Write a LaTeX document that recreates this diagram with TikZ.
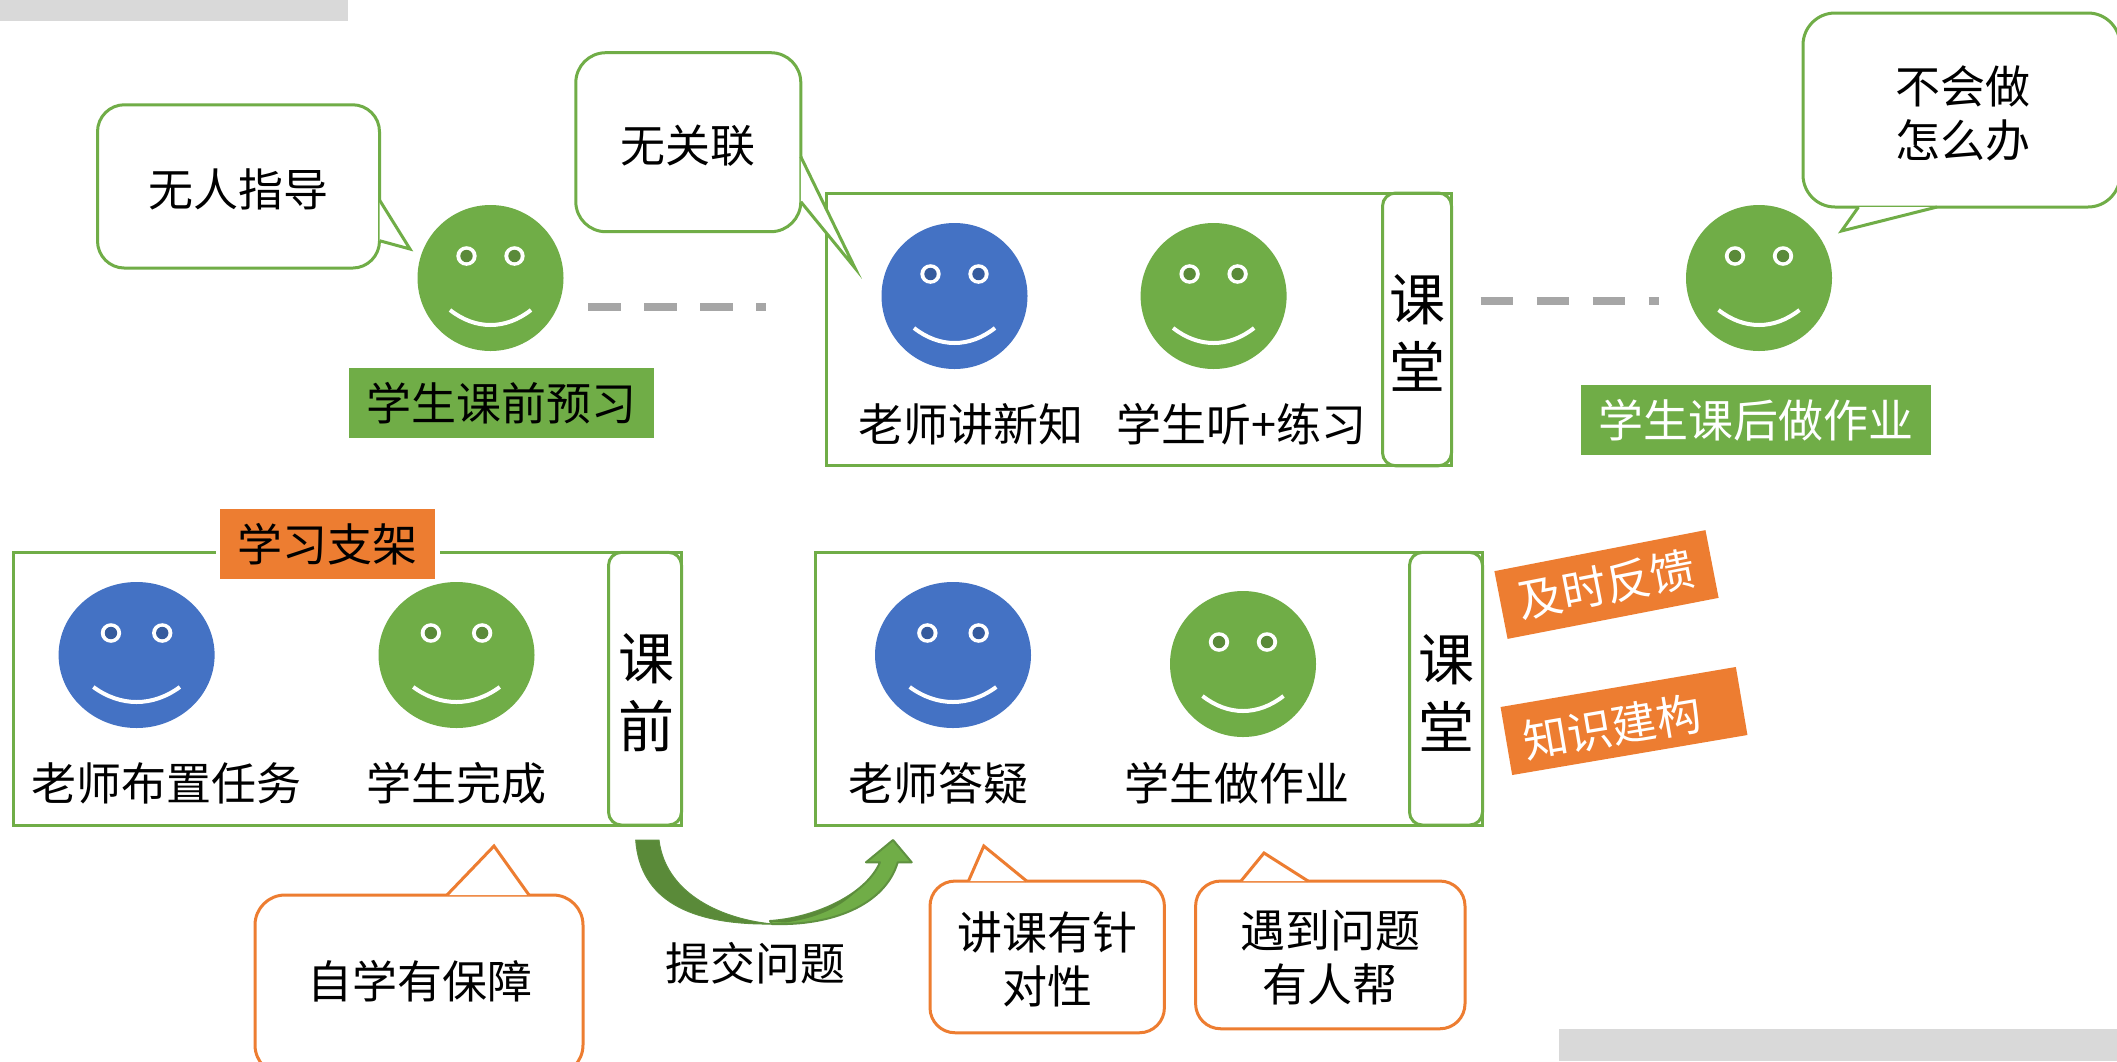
\documentclass[tikz,border=0pt]{standalone}
\usepackage{fontspec}
\setmainfont{Noto Sans CJK SC}
\usetikzlibrary{shapes.geometric}
\definecolor{gr}{HTML}{70AD47}
\definecolor{grd}{HTML}{5A8A39}
\definecolor{grs}{HTML}{5F9140}
\definecolor{bl}{HTML}{4472C4}
\definecolor{bld}{HTML}{365B9D}
\definecolor{og}{HTML}{ED7D31}
\definecolor{lg}{HTML}{D9D9D9}
\definecolor{dg}{HTML}{A6A6A6}
\tikzset{
  wh/.style 2 args={minimum width=#1pt,minimum height=#2pt,inner sep=0pt,outer sep=0pt},
  txt/.style={inner sep=0pt,outer sep=0pt,align=center,font=\fontsize{45}{54}\selectfont,text=black},
  bigtxt/.style={inner sep=0pt,outer sep=0pt,align=center,font=\fontsize{56}{68}\selectfont,text=black},
  boxG/.style={draw=gr,line width=3pt,rectangle},
  inboxG/.style={draw=gr,line width=3pt,rectangle,rounded corners=13pt},
  bubG/.style={draw=gr,line width=3pt,fill=white,rectangle,rounded corners=#1pt},
  bubO/.style={draw=og,line width=3pt,fill=white,rectangle,rounded corners=#1pt},
  tailG/.style={draw=gr,line width=3pt,line join=miter},
  tailO/.style={draw=og,line width=3pt,line join=miter},
  lblG/.style={fill=gr,rectangle,font=\fontsize{45}{54}\selectfont,inner sep=0pt},
  lblO/.style={fill=og,rectangle,font=\fontsize{45}{54}\selectfont,inner sep=0pt},
  dashline/.style={draw=dg,line width=8pt,dash pattern=on 32.5pt off 23.5pt},
  smile/.style={draw=white,line width=4pt},
  arrowout/.style={draw=grs,line width=2pt,line join=round}
}
\newcommand\smiley[6]{%
  \node[ellipse,fill=#5,minimum width=#4*2pt,minimum height=146pt,inner sep=0pt,outer sep=0pt] (#1) at (#2,#3) {};
  \pgfmathsetmacro\facescale{#4/73}
  \begin{scope}[shift={(#2,#3)},x=\facescale pt]
    \fill[white] (-24,-22) ellipse [x radius=10.2pt,y radius=9.8pt];
    \fill[white] (24,-22) ellipse [x radius=10.2pt,y radius=9.8pt];
    \fill[#6] (-24,-22) circle [radius=6.2pt];
    \fill[#6] (24,-22) circle [radius=6.2pt];
    \draw[smile] (-40.5,32) .. controls (-15,52) and (15,52) .. (40.5,32);
  \end{scope}%
}
\begin{document}
\begin{tikzpicture}[x=1pt,y=-1pt]
\clip (0,0) rectangle (2117,1061);
\fill[white] (0,0) rectangle (2117,1061);
% grey bars
\fill[lg] (0,0) rectangle (348,20.7);
\fill[lg] (1559,1028.7) rectangle (2117,1061);

% top row
\node[boxG,wh={625}{272.7}] (boxtop) at (1139,329.4) {};
\node[inboxG,wh={69}{272.7}] (intop) at (1417,329.4) {};
\node[bigtxt] (intoptxt) at (1417.6,332.5) {课\\堂};

\smiley{f1}{490.5}{278}{73}{gr}{grd}
\smiley{f2}{954.5}{296}{73}{bl}{bld}
\smiley{f3}{1213.6}{296}{73}{gr}{grd}
\smiley{f4}{1759}{278}{73}{gr}{grd}

\node[txt] (t2) at (971,424) {老师讲新知};
\node[txt] (t3) at (1241,424) {学生听+练习};

\node[lblG,wh={305.5}{70}] (l1) at (501.7,403) {学生课前预习};
\node[lblG,wh={350}{69.7},text=white] (l4) at (1755.7,420) {学生课后做作业};

\coordinate (d1a) at (588,307);
\coordinate (d1b) at (766,307);
\draw[dashline] (d1a) -- (d1b);
\coordinate (d2a) at (1480.6,300.7);
\coordinate (d2b) at (1658.7,300.7);
\draw[dashline] (d2a) -- (d2b);

% top bubbles
\node[bubG=27,wh={282}{163.3}] (b1) at (238.5,186.4) {};
\coordinate (b1a) at (379.5,200);
\coordinate (b1t) at (410,249);
\coordinate (b1b) at (379.5,240.7);
\fill[white] (b1a) -- (b1t) -- (b1b) -- cycle;
\draw[tailG] (b1a) -- (b1t) -- (b1b);
\node[txt] (b1txt) at (238,189) {无人指导};

\node[bubG=30,wh={225}{179}] (b2) at (688.3,142.2) {};
\coordinate (b2a) at (800.8,156.7);
\coordinate (b2t) at (855,268);
\coordinate (b2b) at (800.8,201.7);
\fill[white] (b2a) -- (b2t) -- (b2b) -- cycle;
\draw[tailG] (b2a) -- (b2t) -- (b2b);
\node[txt] (b2txt) at (688,146) {无关联};

\node[bubG=32,wh={317}{194}] (b3) at (1961.5,110) {};
\coordinate (b3a) at (1858.5,207);
\coordinate (b3t) at (1841.5,231);
\coordinate (b3b) at (1937,207);
\fill[white] (b3a) -- (b3t) -- (b3b) -- cycle;
\draw[tailG] (b3a) -- (b3t) -- (b3b);
\node[txt] (b3txt) at (1963,113.5) {不会做\\怎么办};

% bottom row left
\node[boxG,wh={668}{272.7}] (boxl) at (347.5,688.7) {};
\node[inboxG,wh={73}{272.7}] (inl) at (645,688.7) {};
\node[bigtxt] (inltxt) at (646,693) {课\\前};
\node[lblO,wh={215}{70},preaction={draw=white,line width=9pt}] (l5) at (327.5,544) {学习支架};
\smiley{f5}{136.6}{655}{78}{bl}{bld}
\smiley{f6}{456.5}{655}{78}{gr}{grd}
\node[txt] (t5) at (166,783) {老师布置任务};
\node[txt] (t6) at (456,783) {学生完成};

% bottom row middle
\node[boxG,wh={667.5}{272.7}] (boxm) at (1149.2,688.7) {};
\node[inboxG,wh={73}{272.7}] (inm) at (1446,688.7) {};
\node[bigtxt] (inmtxt) at (1446.7,692.5) {课\\堂};
\smiley{f7}{953}{655}{78}{bl}{bld}
\smiley{f8}{1243}{664}{73}{gr}{grd}
\node[txt] (t7) at (938,783) {老师答疑};
\node[txt] (t8) at (1237,783) {学生做作业};

% orange tags
\node[lblO,wh={215}{69},rotate=11,text=white] (k1) at (1606.5,584.5) {及时反馈};
\node[lblO,wh={238.7}{69},rotate=9.66] (k2) at (1624,721) {};
\node[rotate=9.66,inner sep=0pt,font=\fontsize{45}{54}\selectfont,text=white] (k2txt) at (1612,727) {知识建构};

% bottom bubbles
\node[bubO=30,wh={328}{180}] (b4) at (419,985) {};
\coordinate (b4a) at (447,895);
\coordinate (b4t) at (494,846);
\coordinate (b4b) at (529,895);
\fill[white] (b4a) -- (b4t) -- (b4b) -- cycle;
\draw[tailO] (b4a) -- (b4t) -- (b4b);
\node[txt] (b4txt) at (420,981) {自学有保障};

\node[bubO=25,wh={234.4}{151.7}] (b5) at (1047.2,956.9) {};
\coordinate (b5a) at (968.5,881);
\coordinate (b5t) at (983.8,846);
\coordinate (b5b) at (1026.6,881);
\fill[white] (b5a) -- (b5t) -- (b5b) -- cycle;
\draw[tailO] (b5a) -- (b5t) -- (b5b);
\node[txt] (b5txt) at (1047,959.7) {讲课有针\\对性};

\node[bubO=25,wh={269.4}{147.7}] (b6) at (1330.3,954.9) {};
\coordinate (b6a) at (1241,881);
\coordinate (b6t) at (1264,853);
\coordinate (b6b) at (1308,881);
\fill[white] (b6a) -- (b6t) -- (b6b) -- cycle;
\draw[tailO] (b6a) -- (b6t) -- (b6b);
\node[txt] (b6txt) at (1330,958) {遇到问题\\有人帮};

% curved arrow
\node[txt] (arrowtxt) at (755,963) {提交问题};
\fill[gr] (770,921) .. controls (815,918) and (866,895) .. (880,862.3) -- (866,862.3) -- (893,840) -- (911.7,862.3) -- (897.7,862.3) .. controls (885,905) and (832,926) .. (772,924) -- cycle;
\draw[arrowout] (770,921) .. controls (815,918) and (866,895) .. (880,862.3) -- (866,862.3) -- (893,840) -- (911.7,862.3) -- (897.7,862.3) .. controls (885,905) and (832,926) .. (772,924) -- cycle;
\fill[grd] (770,921.5) .. controls (800,919) and (835,908) .. (858,889) .. controls (838,912) and (805,920) .. (785,922.5) -- cycle;
\fill[grd] (635.7,840) .. controls (640,900) and (690,925) .. (772,924) .. controls (715,918) and (665,890) .. (659,840) -- cycle;
\draw[arrowout,line width=1pt,draw=grs] (635.7,840) .. controls (640,900) and (690,925) .. (772,924) .. controls (715,918) and (665,890) .. (659,840) -- cycle;
\end{tikzpicture}
\end{document}
